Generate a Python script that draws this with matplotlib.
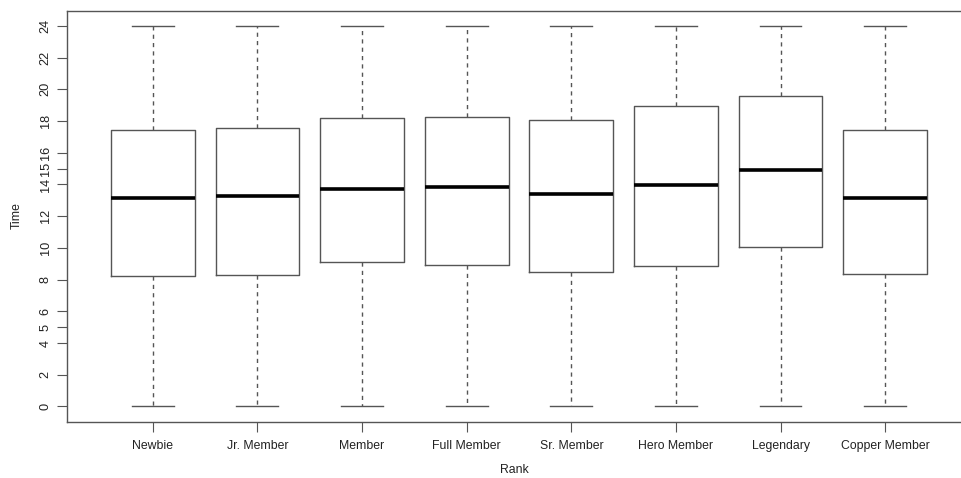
import matplotlib
matplotlib.use("Agg")
import matplotlib.pyplot as plt

plt.rcParams['font.family'] = ['Liberation Sans', 'DejaVu Sans']

ranks = ["Newbie", "Jr. Member", "Member", "Full Member", "Sr. Member",
         "Hero Member", "Legendary", "Copper Member"]
whisker_low = [0, 0, 0, 0, 0, 0, 0.05, 0]
q1 = [8.23, 8.30, 9.10, 8.95, 8.48, 8.84, 10.08, 8.38]
median = [13.16, 13.25, 13.73, 13.86, 13.38, 13.95, 14.93, 13.13]
q3 = [17.45, 17.56, 18.17, 18.25, 18.08, 18.96, 19.57, 17.43]
whisker_high = [24, 24, 24, 24, 24, 24, 24, 24]
yticks = [0, 2, 4, 5, 6, 8, 10, 12, 14, 15, 16, 18, 20, 22, 24]

stats = []
for i, name in enumerate(ranks):
    stats.append(dict(label=name, whislo=whisker_low[i], q1=q1[i], med=median[i],
                      q3=q3[i], whishi=whisker_high[i], fliers=[]))

fig = plt.figure(figsize=(9.62, 4.78), dpi=100)
W, H = 962, 478
left, right, top, bottom = 67, 971, 10.7, 421.7
ax = fig.add_axes([left / W, (H - bottom) / H, (right - left) / W, (bottom - top) / H])

edge = "#555555"
positions = list(range(1, len(ranks) + 1))
ax.bxp(stats, positions=positions, widths=0.8, showfliers=False,
       boxprops=dict(color=edge, linewidth=1.0),
       medianprops=dict(color="black", linewidth=2.6, solid_capstyle="butt"),
       whiskerprops=dict(color=edge, linewidth=1.0, linestyle=(0, (3, 3))),
       capprops=dict(color=edge, linewidth=1.0), capwidths=0.4)

ax.set_xlim(0.18, 8.82)
ax.set_ylim(-0.96, 24.96)
ax.set_xticks(positions)
ax.set_xticklabels(ranks, fontsize=8.8, color="#222222")
ax.set_yticks(yticks)
ax.set_yticklabels([str(t) for t in yticks], fontsize=9.2, rotation=90,
                   va="center", color="#222222")
ax.tick_params(axis="both", length=7, width=0.8, color=edge, direction="out", pad=4)
ax.tick_params(axis="x", pad=6)

for s in ax.spines.values():
    s.set_color(edge)
    s.set_linewidth(1.0)

fig.text(17 / W, 1 - 216 / H, "Time", rotation=90, fontsize=8.8, color="#222222",
         ha="center", va="center")
fig.text(514 / W, 1 - 470 / H, "Rank", fontsize=8.8, color="#222222",
         ha="center", va="center")

fig.savefig("out.png", dpi=100)
